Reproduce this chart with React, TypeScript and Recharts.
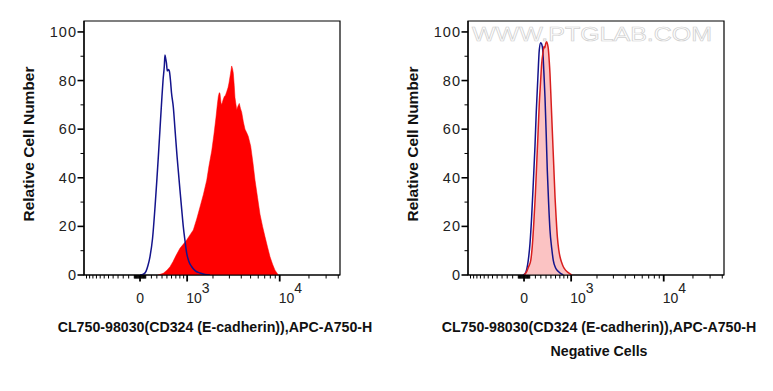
import React from 'react';
import { ComposedChart, Area, Line, XAxis, YAxis, ReferenceArea } from 'recharts';

// ---- data (x in display units of the biexponential axis, y = relative cell number) ----
const leftCtrlD = [2.489, 2.525, 2.554, 2.576, 2.597, 2.625, 2.652, 2.67, 2.688, 2.706, 2.725, 2.739, 2.753, 2.76, 2.768, 2.777, 2.785, 2.798, 2.807, 2.82, 2.831, 2.851, 2.869, 2.891, 2.907, 2.923, 2.942, 2.959, 2.978, 2.996, 3.016, 3.051, 3.087, 3.141, 3.195, 3.25];
const leftCtrlCount = [0, 0.3, 1.5, 4, 7.5, 15, 28, 38, 48.7, 60, 72, 80, 86, 90.5, 89, 87, 84, 84.5, 84, 80, 75, 69, 60, 49, 42, 35, 27, 20, 14, 9, 6, 3.4, 1.8, 0.8, 0.2, 0];

const leftStainD = [2.684, 2.742, 2.782, 2.815, 2.847, 2.88, 2.923, 2.956, 2.996, 3.032, 3.068, 3.105, 3.141, 3.177, 3.214, 3.239, 3.268, 3.293, 3.315, 3.329, 3.34, 3.35, 3.358, 3.369, 3.377, 3.391, 3.405, 3.418, 3.431, 3.445, 3.456, 3.473, 3.485, 3.494, 3.503, 3.513, 3.521, 3.54, 3.554, 3.568, 3.581, 3.594, 3.612, 3.63, 3.649, 3.666, 3.692, 3.717, 3.739, 3.766, 3.793, 3.821, 3.847, 3.875, 3.902, 3.929, 3.956, 3.992];
const leftStainCount = [0, 0.7, 2, 3.4, 5.5, 8, 11, 12.5, 14.4, 16.5, 18.5, 23, 28, 33, 39, 45, 51, 58, 65, 70, 73.4, 75, 74.8, 71, 70, 72, 73.4, 74, 75.4, 77, 79, 83, 86, 85, 83, 78, 73, 68, 69.5, 70.6, 68.5, 67, 63, 60, 58.5, 57, 53, 46, 39, 32, 25, 20, 15.8, 11.5, 7.5, 4.5, 2, 0];

const rightCtrlD = [2.478, 2.5, 2.535, 2.554, 2.572, 2.59, 2.608, 2.622, 2.638, 2.655, 2.67, 2.681, 2.692, 2.704, 2.717, 2.73, 2.742, 2.757, 2.771, 2.79, 2.807, 2.831, 2.862, 2.916];
const rightCtrlCount = [0, 0.5, 6, 13, 24, 38, 53, 67, 80, 92.6, 95.6, 95, 92.6, 84, 73, 58, 43, 29, 18.5, 11, 6, 3, 1.4, 0];

const rightNegD = [2.489, 2.518, 2.54, 2.562, 2.579, 2.597, 2.612, 2.627, 2.641, 2.655, 2.668, 2.681, 2.695, 2.706, 2.715, 2.725, 2.735, 2.744, 2.753, 2.763, 2.771, 2.784, 2.796, 2.812, 2.826, 2.839, 2.851, 2.866, 2.88, 2.899, 2.916, 2.94, 2.97, 3.007];
const rightNegCount = [0, 1.4, 3.5, 6, 12, 22.6, 33, 46, 58, 70.6, 79, 87, 91.5, 94, 93.5, 95.3, 96, 95, 93, 88, 83, 71, 59.7, 45, 32, 23, 15.8, 10.5, 7.5, 5, 3.4, 2, 1, 0];

// axis ticks (raw fluorescence values) and labels
const xMajorValues = [0, 1000, 10000];
const xMajorLabels = ['0', '3', '4'];
const xMinorValues = [-1200, -1100, -1000, -900, -800, -700, -600, -500, -400, -300, -200, -100, -90, -80, -70, -60, -50, -40, -30, -20, -10, 10, 20, 30, 40, 50, 60, 70, 80, 90, 100, 200, 300, 400, 500, 600, 700, 800, 900, 2000, 3000, 4000, 5000, 6000, 7000, 8000, 9000, 20000, 30000, 40000];
const yTicks = [0, 10, 20, 30, 40, 50, 60, 70, 80, 90, 100];
const yLabelTicks = [0, 20, 40, 60, 80, 100];

const X_MIN = 1.88;
const X_MAX = 4.6626;
const Y_MAX = 104.5;
const TOP = 21;
const PLOT_H = 254;
const Y_AXIS_W = 84;
const PLOT_W = 256;
const FONT = '"Liberation Sans", Arial, Helvetica, sans-serif';
const Y_TITLE = 'Relative Cell Number';
const X_TITLE = 'CL750-98030(CD324 (E-cadherin)),APC-A750-H';

const toDisplay = (v: number) => 2.489 + 0.4594 * Math.asinh(v / 735);
const majorD = xMajorValues.map(toDisplay);
const xTicks = [...xMajorValues, ...xMinorValues]
  .map(toDisplay)
  .filter((d) => d >= X_MIN && d <= X_MAX)
  .sort((a, b) => a - b);

const zip = (d: number[], c: number[]) => d.map((x, i) => ({ d: x, v: c[i] }));
const leftCtrl = zip(leftCtrlD, leftCtrlCount);
const leftStain = zip(leftStainD, leftStainCount);
const rightCtrl = zip(rightCtrlD, rightCtrlCount);
const rightNeg = zip(rightNegD, rightNegCount);

const XTick = (props: any) => {
  const { x, y, payload } = props;
  const idx = majorD.findIndex((m) => Math.abs(m - payload.value) < 1e-6);
  const major = idx >= 0;
  return (
    <g>
      <line x1={x} x2={x} y1={y} y2={y + (major ? 6.5 : 3.5)} stroke="#000" strokeWidth={major ? 1.8 : 1} />
      {major && idx === 0 && (
        <text x={x} y={y + 28} textAnchor="middle" fontSize={14} fill="#222" fontFamily={FONT}>0</text>
      )}
      {major && idx > 0 && (
        <text x={x - 1} y={y + 28} textAnchor="start" fontSize={14} fill="#222" fontFamily={FONT}>
          10<tspan dy={-10}>{xMajorLabels[idx]}</tspan>
        </text>
      )}
    </g>
  );
};

const YTick = (props: any) => {
  const { x, y, payload } = props;
  const major = yLabelTicks.includes(payload.value);
  return (
    <g>
      <line x1={x - (major ? 6.5 : 3.5)} x2={x} y1={y} y2={y} stroke="#000" strokeWidth={major ? 1.6 : 1} />
      {major && (
        <text x={x - 7} y={y + 5} textAnchor="end" fontSize={14.5} letterSpacing={1} fill="#222" fontFamily={FONT}>{payload.value}</text>
      )}
    </g>
  );
};

const YTitle = () => {
  const cx = 28;
  const cy = TOP + PLOT_H / 2 - 4;
  return (
    <text x={cx} y={cy} transform={`rotate(-90 ${cx} ${cy})`} textAnchor="middle" dominantBaseline="central"
      fontSize={15.5} fontWeight="bold" fill="#111" fontFamily={FONT}>{Y_TITLE}</text>
  );
};

const XTitle = (props: any) => {
  const cx = Y_AXIS_W + PLOT_W / 2 + 3;
  const base = TOP + PLOT_H;
  return (
    <g>
      <text x={cx} y={base + 57} textAnchor="middle" fontSize={14.2} fontWeight="bold" fill="#111" fontFamily={FONT}>{X_TITLE}</text>
      {props.sub && (
        <text x={cx} y={base + 81} textAnchor="middle" fontSize={14.2} fontWeight="bold" fill="#111" fontFamily={FONT}>{props.sub}</text>
      )}
    </g>
  );
};

function Panel({ width, marginRight, sub, children }: any) {
  return (
    <ComposedChart width={width} height={391} margin={{ top: TOP, right: marginRight, left: 0, bottom: 0 }}>
      <XAxis type="number" dataKey="d" domain={[X_MIN, X_MAX]} ticks={xTicks} interval={0} allowDataOverflow
        height={391 - TOP - PLOT_H} tickSize={0} tickMargin={0} tickLine={false} axisLine={{ stroke: '#000', strokeWidth: 1.2 }}
        tick={<XTick />} label={<XTitle sub={sub} />} />
      <YAxis type="number" domain={[0, Y_MAX]} ticks={yTicks} interval={0} allowDataOverflow width={Y_AXIS_W}
        tickSize={0} tickMargin={0} tickLine={false} axisLine={{ stroke: '#000', strokeWidth: 1.2 }}
        tick={<YTick />} label={<YTitle />} />
      <ReferenceArea x1={X_MIN} x2={X_MAX} y1={0} y2={Y_MAX} fill="none" stroke="#000" strokeWidth={1.2} />
      {children}
    </ComposedChart>
  );
}

export default function App() {
  return (
    <div style={{ position: 'absolute', left: 0, top: 0, width: 773, height: 391, background: '#fff', fontFamily: FONT }}>
      <div style={{ position: 'absolute', left: 0, top: 0 }}>
        <Panel width={386} marginRight={46}>
          <Area data={leftStain} dataKey="v" type="linear" fill="#ff0000" fillOpacity={1} stroke="#ff0000" strokeWidth={0.5} isAnimationActive={false} />
          <Line data={leftCtrl} dataKey="v" type="monotone" stroke="#14148c" strokeWidth={1.5} dot={false} isAnimationActive={false} />
        </Panel>
      </div>
      <div style={{ position: 'absolute', left: 384, top: 0 }}>
        <Panel width={389} marginRight={49} sub="Negative Cells">
          <Area data={rightNeg} dataKey="v" type="monotone" fill="#fbc3c3" fillOpacity={1} stroke="none" isAnimationActive={false} />
          <Line data={rightCtrl} dataKey="v" type="monotone" stroke="#14148c" strokeWidth={1.5} dot={false} isAnimationActive={false} />
          <Line data={rightNeg} dataKey="v" type="monotone" stroke="#d81e1e" strokeWidth={1.5} dot={false} isAnimationActive={false} />
        </Panel>
      </div>
      <svg width={773} height={391} style={{ position: 'absolute', left: 0, top: 0, pointerEvents: 'none' }}>
        <text x={472} y={41} textLength={240} lengthAdjust="spacingAndGlyphs" fontSize={21} fontFamily={FONT}
          fill="#ffffff" stroke="#d0d0d0" strokeWidth={0.7}>WWW.PTGLAB.COM</text>
      </svg>
    </div>
  );
}
